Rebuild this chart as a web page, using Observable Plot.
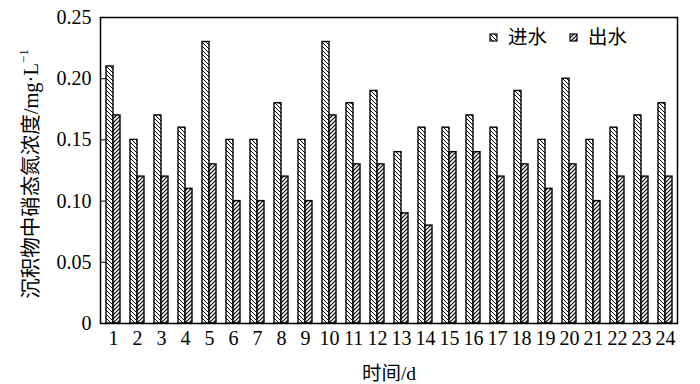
<!DOCTYPE html>
<html>
<head>
<meta charset="utf-8">
<script src="https://cdn.jsdelivr.net/npm/d3@7"></script>
<script src="https://cdn.jsdelivr.net/npm/@observablehq/plot@0.6"></script>
<style>
  html, body { margin: 0; padding: 0; background: #fff; }
</style>
</head>
<body>
<div id="chart"></div>
<script>
const days = ["1","2","3","4","5","6","7","8","9","10","11","12","13","14","15","16","17","18","19","20","21","22","23","24"];
const inflow = [0.21,0.15,0.17,0.16,0.23,0.15,0.15,0.18,0.15,0.23,0.18,0.19,0.14,0.16,0.16,0.17,0.16,0.19,0.15,0.20,0.15,0.16,0.17,0.18];
const outflow = [0.17,0.12,0.12,0.11,0.13,0.10,0.10,0.12,0.10,0.17,0.13,0.13,0.09,0.08,0.14,0.14,0.12,0.13,0.11,0.13,0.10,0.12,0.12,0.12];
const yTicks = [0, 0.05, 0.10, 0.15, 0.20, 0.25];
const seriesNames = ["进水", "出水"];
const yTitle = "沉积物中硝态氮浓度/mg·L";
const xTitle = "时间/d";

const dataIn = days.map((d, i) => ({day: d, value: inflow[i]}));
const dataOut = days.map((d, i) => ({day: d, value: outflow[i]}));

const font = "'Liberation Serif', 'Times New Roman', 'Noto Sans CJK SC', serif";

const chart = Plot.plot({
  width: 700,
  height: 384,
  marginLeft: 100,
  marginRight: 23,
  marginTop: 17,
  marginBottom: 61,
  style: {fontFamily: font, fontSize: "20px", background: "#fff", color: "#000"},
  x: {domain: days, padding: 0, label: null},
  y: {domain: [0, 0.25], label: null},
  marks: [
    Plot.barY(dataIn, {x: "day", y: "value", fill: "url(#hatchIn)", stroke: "#000", strokeWidth: 1.4, insetLeft: 5, insetRight: 12}),
    Plot.barY(dataOut, {x: "day", y: "value", fill: "url(#hatchOut)", stroke: "#000", strokeWidth: 1.4, insetLeft: 12, insetRight: 5}),
    Plot.frame({stroke: "#000", strokeWidth: 1.5}),
    Plot.axisY({ticks: yTicks, tickSize: -6, tickPadding: 15, tickFormat: d => d === 0 ? "0" : d.toFixed(2), fontSize: 20, label: null}),
    Plot.axisX({tickSize: 0, tickPadding: 7, fontSize: 20, label: null})
  ]
});

const svg = d3.select(chart);
const defs = svg.insert("defs", ":first-child");
const pIn = defs.append("pattern").attr("id", "hatchIn").attr("patternUnits", "userSpaceOnUse")
  .attr("width", 4).attr("height", 4);
pIn.append("rect").attr("width", 4).attr("height", 4).attr("fill", "#fff");
pIn.append("path").attr("d", "M-1,-1 L5,5 M-1,3 L1,5 M3,-1 L5,1").attr("stroke", "#000").attr("stroke-width", 1);
const pOut = defs.append("pattern").attr("id", "hatchOut").attr("patternUnits", "userSpaceOnUse")
  .attr("width", 4).attr("height", 4);
pOut.append("rect").attr("width", 4).attr("height", 4).attr("fill", "#fff");
pOut.append("path").attr("d", "M-1,5 L5,-1 M-1,1 L1,-1 M3,5 L5,3").attr("stroke", "#000").attr("stroke-width", 1.2);

// Y title with superscript
const yt = svg.append("text")
  .attr("transform", "translate(33,174) rotate(-90)")
  .attr("text-anchor", "middle")
  .attr("dominant-baseline", "middle")
  .attr("font-family", font)
  .attr("font-size", 20.5)
  .attr("fill", "#000");
yt.append("tspan").text(yTitle);
yt.append("tspan").attr("baseline-shift", "super").attr("font-size", 13).text("−1");

// X title
svg.append("text")
  .attr("x", 389).attr("y", 380)
  .attr("text-anchor", "middle")
  .attr("font-family", font)
  .attr("font-size", 19.5)
  .attr("fill", "#000")
  .text(xTitle);

// Legend
const leg = svg.append("g").attr("font-family", font).attr("font-size", 19.5).attr("fill", "#000").attr("text-anchor", "start");
const legItems = [{x: 490, name: seriesNames[0], fill: "url(#hatchIn)"}, {x: 570, name: seriesNames[1], fill: "url(#hatchOut)"}];
legItems.forEach(it => {
  leg.append("rect").attr("x", it.x).attr("y", 34).attr("width", 7).attr("height", 7)
    .attr("fill", it.fill).attr("stroke", "#000").attr("stroke-width", 1.2);
  leg.append("text").attr("x", it.x + 18).attr("y", 44).attr("text-anchor", "start").text(it.name);
});

document.getElementById("chart").appendChild(chart);
</script>
</body>
</html>
